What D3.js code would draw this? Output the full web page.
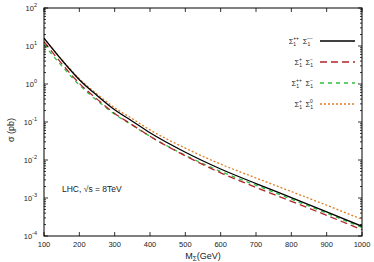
<!DOCTYPE html>
<html>
<head>
<meta charset="utf-8">
<script src="https://d3js.org/d3.v7.min.js"></script>
<style>
  body { margin: 0; background: white; }
  svg text { font-family: "Liberation Sans", Arial, sans-serif; fill: #222; }
</style>
</head>
<body>
<script>
// masses (GeV)
var mass = [100, 150, 200, 250, 300, 350, 400, 500, 600, 700, 800, 900, 1000];
// cross sections (pb)
var sigmaPPMM = [16, 4.3, 1.3, 0.5, 0.21, 0.105, 0.052, 0.016, 0.0058, 0.0024, 0.00102, 0.00043, 0.00018];
var sigmaPM   = [13, 3.45, 1.04, 0.40, 0.168, 0.084, 0.042, 0.0129, 0.0046, 0.0019, 0.00082, 0.00035, 0.000145];
var sigmaPPM  = [10.9, 3.0, 0.94, 0.37, 0.16, 0.082, 0.042, 0.0133, 0.0050, 0.00216, 0.00093, 0.0004, 0.000168];
var sigmaP0   = [16, 4.4, 1.37, 0.545, 0.237, 0.122, 0.062, 0.0205, 0.0078, 0.00336, 0.00148, 0.000645, 0.000275];

var xTicks = [100, 200, 300, 400, 500, 600, 700, 800, 900, 1000];
var yExps = [-4, -3, -2, -1, 0, 1, 2];

var series = [
  {sup1: "++", sup2: "\u2212\u2212", vals: sigmaPPMM, color: "#000000", dash: null, w: 1.3},
  {sup1: "+",  sup2: "\u2212",       vals: sigmaPM,   color: "#b0242c", dash: "7,4", w: 1.3},
  {sup1: "++", sup2: "\u2212",       vals: sigmaPPM,  color: "#2fbf3a", dash: "4,4", w: 1.3},
  {sup1: "+",  sup2: "0",            vals: sigmaP0,   color: "#e07b1f", dash: "2,2", w: 1.3}
];

var W = 374, H = 262;
var m = {left: 44, right: 362, top: 8, bottom: 236};

var svg = d3.select("body").append("svg")
    .attr("width", W).attr("height", H);

var x = d3.scaleLinear().domain([100, 1000]).range([m.left, m.right]);
var y = d3.scaleLog().domain([1e-4, 1e2]).range([m.bottom, m.top]);

// curves
var line = d3.line()
    .x(function(d) { return x(d[0]); })
    .y(function(d) { return y(d[1]); })
    .curve(d3.curveMonotoneX);

svg.append("clipPath").attr("id", "clip")
  .append("rect").attr("x", m.left).attr("y", m.top)
  .attr("width", m.right - m.left).attr("height", m.bottom - m.top);

svg.append("g").attr("clip-path", "url(#clip)")
  .selectAll("path")
  .data(series.slice().reverse())
  .enter().append("path")
    .attr("d", function(s) { return line(mass.map(function(v, i) { return [v, s.vals[i]]; })); })
    .attr("fill", "none")
    .attr("stroke", function(s) { return s.color; })
    .attr("stroke-width", function(s) { return s.w; })
    .attr("stroke-dasharray", function(s) { return s.dash; });

// frame
svg.append("rect")
  .attr("x", m.left).attr("y", m.top)
  .attr("width", m.right - m.left).attr("height", m.bottom - m.top)
  .attr("fill", "none").attr("stroke", "#000").attr("stroke-width", 1);

// x ticks (bottom and top, inward)
var tk = svg.append("g").attr("stroke", "#000").attr("stroke-width", 0.8);
xTicks.forEach(function(t) {
  tk.append("line").attr("x1", x(t)).attr("x2", x(t)).attr("y1", m.bottom).attr("y2", m.bottom - 4);
  tk.append("line").attr("x1", x(t)).attr("x2", x(t)).attr("y1", m.top).attr("y2", m.top + 4);
});

// y ticks major + minor (left and right)
yExps.forEach(function(e) {
  for (var k = 1; k <= 9; k++) {
    var v = k * Math.pow(10, e);
    if (v > 1e2 + 1e-9) continue;
    var len = (k === 1) ? 4 : 2;
    tk.append("line").attr("x1", m.left).attr("x2", m.left + len).attr("y1", y(v)).attr("y2", y(v));
    tk.append("line").attr("x1", m.right).attr("x2", m.right - len).attr("y1", y(v)).attr("y2", y(v));
  }
});

// x tick labels
svg.append("g").selectAll("text")
  .data(xTicks).enter().append("text")
    .attr("x", function(d) { return x(d); })
    .attr("y", m.bottom + 11)
    .attr("text-anchor", "middle")
    .attr("font-size", 7.5)
    .text(function(d) { return d; });

// y tick labels 10^n
var yl = svg.append("g").selectAll("text")
  .data(yExps).enter().append("text")
    .attr("x", 37)
    .attr("y", function(d) { return y(Math.pow(10, d)) + 3; })
    .attr("text-anchor", "end")
    .attr("font-size", 7.5);
yl.append("tspan").text("10");
yl.append("tspan").attr("dy", -4).attr("font-size", 5.5)
  .text(function(d) { return d < 0 ? "-" + (-d) : d; });

// axis titles
svg.append("text")
  .attr("transform", "translate(14,130) rotate(-90)")
  .attr("text-anchor", "middle")
  .attr("font-size", 9)
  .text("\u03c3 (pb)");

var xt = svg.append("text")
  .attr("x", 203).attr("y", 259)
  .attr("text-anchor", "middle")
  .attr("font-size", 9);
xt.append("tspan").text("M");
xt.append("tspan").attr("dy", 2).attr("font-size", 6.5).text("\u03a3");
xt.append("tspan").attr("dy", -2).text("(GeV)");

// annotation
svg.append("text")
  .attr("x", 62).attr("y", 192)
  .attr("font-size", 8.5)
  .text("LHC, \u221as = 8TeV");

// legend
var legY = [41, 62, 83, 104];
var leg = svg.append("g");
series.forEach(function(s, i) {
  var ly = legY[i];
  leg.append("line")
    .attr("x1", 320).attr("x2", 355).attr("y1", ly).attr("y2", ly)
    .attr("stroke", s.color).attr("stroke-width", s.w)
    .attr("stroke-dasharray", s.dash);
  var t = leg.append("text")
    .attr("x", 313).attr("y", ly + 3)
    .attr("text-anchor", "end")
    .attr("font-size", 7.5);
  t.append("tspan").text("\u03a3");
  t.append("tspan").attr("dy", 2).attr("font-size", 5).text("1");
  t.append("tspan").attr("dy", -6).attr("dx", -3).attr("font-size", 5).text(s.sup1);
  t.append("tspan").attr("dy", 4).attr("font-size", 7.5).text("\u2002\u03a3");
  t.append("tspan").attr("dy", 2).attr("font-size", 5).text("1");
  t.append("tspan").attr("dy", -6).attr("dx", -3).attr("font-size", 5).text(s.sup2);
});
</script>
</body>
</html>
